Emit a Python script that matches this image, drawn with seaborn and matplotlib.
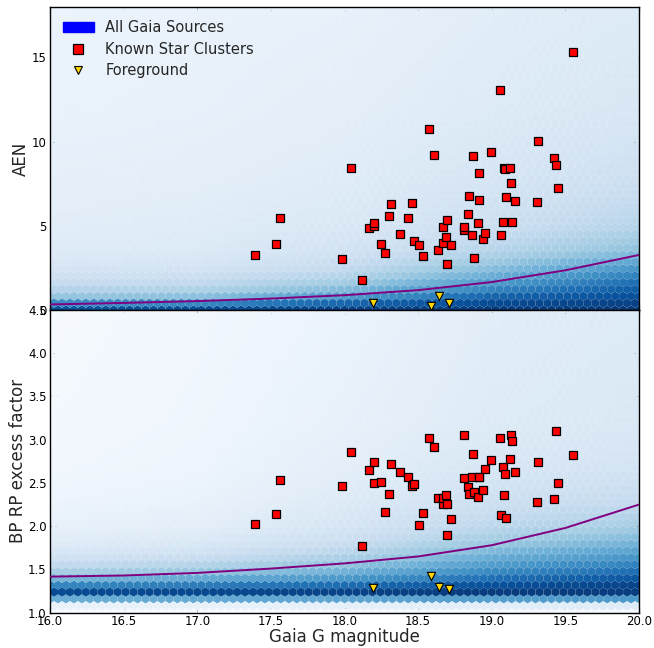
import numpy as np
import pandas as pd
import matplotlib
matplotlib.use("Agg")
import matplotlib.pyplot as plt
import seaborn as sns
from matplotlib.patches import Patch
from matplotlib.lines import Line2D

# ---------------- data ----------------
# Known star clusters: Gaia G magnitude, AEN, BP/RP excess factor
cl_g = [17.395, 17.535, 17.565, 17.980, 18.041, 18.120, 18.166, 18.199, 18.202, 18.245,
        18.277, 18.299, 18.318, 18.376, 18.429, 18.458, 18.469, 18.506, 18.536, 18.577,
        18.605, 18.637, 18.667, 18.671, 18.687, 18.694, 18.694, 18.721, 18.808, 18.810,
        18.836, 18.843, 18.864, 18.871, 18.876, 18.906, 18.910, 18.915, 18.942, 18.957,
        18.998, 19.056, 19.066, 19.074, 19.085, 19.088, 19.094, 19.123, 19.131, 19.134,
        19.156, 19.304, 19.311, 19.422, 19.437, 19.447, 19.549]
cl_aen = [3.27, 3.95, 5.46, 3.04, 8.41, 1.77, 4.90, 4.98, 5.16, 3.95,
          3.41, 5.61, 6.31, 4.50, 5.49, 6.37, 4.11, 3.89, 3.19, 10.73,
          9.20, 3.58, 4.01, 4.95, 4.33, 5.36, 2.74, 3.85, 4.73, 4.92,
          5.73, 6.79, 4.46, 9.14, 3.09, 5.18, 8.16, 6.53, 4.19, 4.60,
          9.41, 13.04, 4.47, 5.22, 8.44, 8.35, 6.74, 8.41, 7.52, 5.20,
          6.45, 6.39, 10.02, 9.05, 8.59, 7.22, 15.30]
cl_bprp = [2.03, 2.14, 2.54, 2.46, 2.86, 1.77, 2.65, 2.50, 2.74, 2.51,
           2.16, 2.37, 2.72, 2.63, 2.57, 2.46, 2.49, 2.01, 2.15, 3.02,
           2.92, 2.33, 2.26, 2.33, 2.36, 2.26, 1.90, 2.08, 2.56, 3.05,
           2.45, 2.37, 2.57, 2.84, 2.39, 2.34, 2.57, 2.57, 2.42, 2.66,
           2.77, 3.02, 2.13, 2.68, 2.36, 2.60, 2.09, 2.78, 3.05, 2.98,
           2.63, 2.28, 2.74, 2.31, 3.10, 2.50, 2.82]

# Foreground objects
fg_g = [18.193, 18.590, 18.642, 18.710]
fg_aen = [0.40, 0.24, 0.82, 0.44]
fg_bprp = [1.28, 1.42, 1.30, 1.27]

# Threshold curves (read at 0.5 mag steps)
cut_g = [16.0, 16.5, 17.0, 17.5, 18.0, 18.5, 19.0, 19.5, 20.0]
cut_aen = [0.33, 0.42, 0.53, 0.68, 0.88, 1.18, 1.66, 2.36, 3.27]
cut_bprp = [1.417, 1.43, 1.46, 1.51, 1.57, 1.65, 1.78, 1.98, 2.25]

# Density of all Gaia sources (colour level 0..1 on Blues)
dens_g = [16.0, 17.0, 18.0, 19.0, 20.0]
dens_aen_rows = [0.0, 0.25, 0.5, 0.8, 1.2, 1.8, 2.5, 3.5, 5.0, 8.0, 12.0, 18.0]
dens_aen = [
    [0.93, 0.78, 0.55, 0.38, 0.30, 0.22, 0.17, 0.13, 0.11, 0.09, 0.07, 0.06],
    [0.94, 0.80, 0.58, 0.40, 0.32, 0.24, 0.18, 0.14, 0.12, 0.10, 0.08, 0.07],
    [0.96, 0.88, 0.74, 0.57, 0.44, 0.33, 0.25, 0.19, 0.15, 0.12, 0.10, 0.08],
    [0.97, 0.93, 0.88, 0.80, 0.68, 0.54, 0.42, 0.30, 0.22, 0.17, 0.13, 0.11],
    [0.98, 0.95, 0.92, 0.89, 0.83, 0.74, 0.60, 0.42, 0.30, 0.21, 0.16, 0.13],
]
dens_bprp_rows = [1.0, 1.08, 1.12, 1.16, 1.20, 1.24, 1.28, 1.33, 1.40, 1.50,
                  1.65, 1.80, 2.00, 2.30, 2.70, 3.20, 4.50]
dens_bprp = [
    [0.0, 0.0, 0.30, 0.45, 0.85, 0.97, 0.80, 0.62, 0.45, 0.30, 0.18, 0.12, 0.08, 0.05, 0.03, 0.02, 0.01],
    [0.0, 0.0, 0.30, 0.47, 0.86, 0.97, 0.83, 0.66, 0.50, 0.35, 0.22, 0.15, 0.10, 0.07, 0.05, 0.04, 0.03],
    [0.0, 0.02, 0.30, 0.50, 0.88, 0.98, 0.88, 0.72, 0.58, 0.45, 0.32, 0.23, 0.17, 0.13, 0.10, 0.08, 0.06],
    [0.0, 0.05, 0.30, 0.55, 0.90, 0.98, 0.95, 0.85, 0.75, 0.62, 0.50, 0.38, 0.28, 0.21, 0.16, 0.13, 0.11],
    [0.0, 0.08, 0.30, 0.60, 0.90, 0.97, 0.95, 0.92, 0.85, 0.74, 0.60, 0.48, 0.35, 0.25, 0.18, 0.15, 0.13],
]

# ---------------- helpers ----------------
def table_levels(gcols, yrows, table, gx, gy):
    per_col = np.array([np.interp(gy, yrows, col) for col in table])
    gcols = np.asarray(gcols)
    idx = np.clip(np.searchsorted(gcols, gx) - 1, 0, len(gcols) - 2)
    t = (gx - gcols[idx]) / (gcols[idx + 1] - gcols[idx])
    ar = np.arange(gx.size)
    return per_col[idx, ar] * (1 - t) + per_col[idx + 1, ar] * t


def draw_background(ax, rows, table, ylim, ny):
    xs = np.linspace(16.0, 20.0, 420)
    ys = np.linspace(ylim[0], ylim[1], 420)
    GX, GY = np.meshgrid(xs, ys)
    gx, gy = GX.ravel(), GY.ravel()
    lev = table_levels(dens_g, rows, table, gx, gy)
    ax.hexbin(gx, gy, C=lev, gridsize=(74, ny), extent=(16.0, 20.0, ylim[0], ylim[1]),
              cmap="Blues", vmin=0, vmax=1, reduce_C_function=np.mean,
              linewidths=0.0, zorder=1)


# ---------------- figure ----------------
sns.set_style("ticks")
plt.rcParams.update({
    "font.family": ["DejaVu Sans"],
    "xtick.direction": "in", "ytick.direction": "in",
    "xtick.top": True, "ytick.right": True,
    "xtick.major.size": 4, "ytick.major.size": 4,
    "xtick.labelsize": 8.5, "ytick.labelsize": 8.5,
    "xtick.major.pad": 1.5, "ytick.major.pad": 2.5,
    "axes.edgecolor": "black", "axes.linewidth": 1.0,
    "xtick.color": "black", "ytick.color": "black",
})

fig = plt.figure(figsize=(6.54, 6.48), dpi=100)
ax1 = fig.add_axes([0.0765, 0.5216, 0.9006, 0.4676])
ax2 = fig.add_axes([0.0765, 0.0545, 0.9006, 0.4671], sharex=ax1)

blues0 = plt.get_cmap("Blues")(0.0)
for ax in (ax1, ax2):
    ax.set_facecolor(blues0)

clusters = pd.DataFrame({"G": cl_g, "AEN": cl_aen, "BPRP": cl_bprp})
fore = pd.DataFrame({"G": fg_g, "AEN": fg_aen, "BPRP": fg_bprp})
cut = pd.DataFrame({"G": cut_g, "AEN": cut_aen, "BPRP": cut_bprp})

panels = [(ax1, "AEN", dens_aen_rows, dens_aen, (0.0, 18.0), 22),
          (ax2, "BPRP", dens_bprp_rows, dens_bprp, (1.0, 4.5), 22)]
for ax, col, rows, table, ylim, ny in panels:
    draw_background(ax, rows, table, ylim, ny)
    sns.lineplot(data=cut, x="G", y=col, ax=ax, color="purple", lw=1.4,
                 zorder=3, legend=False)
    sns.scatterplot(data=clusters, x="G", y=col, ax=ax, marker="s", s=40,
                    color="red", edgecolor="black", linewidth=0.9, zorder=4,
                    legend=False)
    sns.scatterplot(data=fore, x="G", y=col, ax=ax, marker="v", s=36,
                    color="gold", edgecolor="black", linewidth=0.8, zorder=4,
                    legend=False)
    ax.set_ylim(*ylim)
    ax.tick_params(which="both", direction="in", top=True, right=True, length=4)

ax1.set_xlim(16.0, 20.0)
ax1.set_yticks([0, 5, 10, 15])
ax1.tick_params(labelbottom=False)
ax1.set_xlabel("")
ax1.set_ylabel("AEN", fontsize=12, labelpad=1)

ax2.set_xticks(np.arange(16.0, 20.01, 0.5))
ax2.set_xticklabels([f"{v:.1f}" for v in np.arange(16.0, 20.01, 0.5)])
ax2.set_yticks(np.arange(1.0, 4.51, 0.5))
ax2.set_yticklabels([f"{v:.1f}" for v in np.arange(1.0, 4.51, 0.5)])
ax2.set_xlabel("Gaia G magnitude", fontsize=12, labelpad=0)
ax2.set_ylabel("BP RP excess factor", fontsize=12, labelpad=1)

handles = [
    Patch(facecolor="blue", edgecolor="blue"),
    Line2D([], [], marker="s", ls="", markerfacecolor="red", markeredgecolor="black",
           markersize=6.5, markeredgewidth=0.9),
    Line2D([], [], marker="v", ls="", markerfacecolor="gold", markeredgecolor="black",
           markersize=6, markeredgewidth=0.8),
]
labels = ["All Gaia Sources", "Known Star Clusters", "Foreground"]
ax1.legend(handles, labels, loc="upper left", frameon=False, fontsize=10.5,
           handlelength=2.1, handletextpad=0.8, labelspacing=0.45)

fig.savefig("out.png", dpi=100)
